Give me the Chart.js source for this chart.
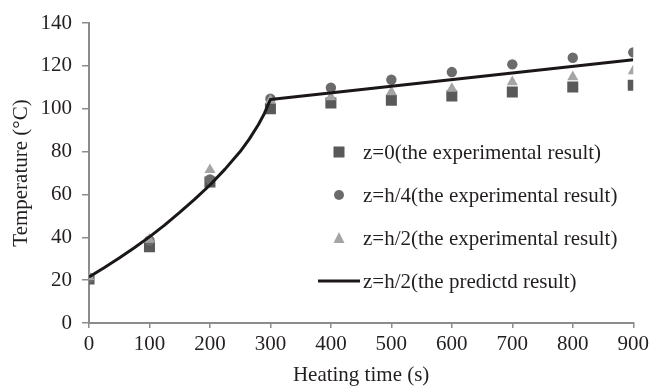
<!DOCTYPE html>
<html>
<head>
<meta charset="utf-8">
<script src="https://cdn.jsdelivr.net/npm/chart.js@4"></script>
<style>
  body { margin: 0; background: #fff; }
</style>
</head>
<body>
<canvas id="myChart" width="653" height="388"></canvas>
<script>
// experimental readings, every 100 s
const timeS = [0, 100, 200, 300, 400, 500, 600, 700, 800, 900];
const tempZ0 = [20.5, 35.6, 65.8, 100, 102.7, 103.9, 105.9, 107.8, 110.1, 110.9];
const tempZh4 = [21, 38.5, 67, 104.7, 109.8, 113.5, 117.1, 120.7, 123.8, 126.3];
const tempZh2 = [21.6, 39, 71.5, 103.9, 105.5, 107.8, 109.4, 112.5, 114.8, 117.6];

// predicted curve at z=h/2
const predTime = [0, 25, 50, 75, 100, 125, 150, 175, 200, 225, 250, 265, 280, 290, 300, 900];
const predTemp = [21.5, 25.8, 30.3, 35.1, 40.2, 45.7, 51.6, 57.8, 64.4, 71.8, 80, 85.8, 92.5, 97.8, 104.3, 122.9];

const labels = [
  "z=0(the experimental result)",
  "z=h/4(the experimental result)",
  "z=h/2(the experimental result)",
  "z=h/2(the predictd result)"
];

const FONT = '"Liberation Serif", "Times New Roman", serif';
const FSIZE = 21;
const AXIS_GREY = "#8c8c8c";
const TEXT = "#231f20";

const pts = (xs, ys) => xs.map((x, i) => ({ x: x, y: ys[i] }));

// legend sits inside the plot on the right, like the original
const insideLegend = {
  id: "insideLegend",
  afterDraw(chart) {
    const ctx = chart.ctx;
    ctx.save();
    ctx.font = FSIZE + "px " + FONT;
    ctx.textBaseline = "middle";
    const mx = 339, tx = 363;
    chart.data.datasets.forEach((ds, i) => {
      const y = 152 + i * 43;
      ctx.fillStyle = ds.backgroundColor;
      if (ds.pointStyle === "rect") {
        ctx.fillRect(mx - 5.5, y - 5.5, 11, 11);
      } else if (ds.pointStyle === "circle") {
        ctx.beginPath();
        ctx.arc(mx, y, 5, 0, Math.PI * 2);
        ctx.fill();
      } else if (ds.pointStyle === "triangle") {
        ctx.beginPath();
        ctx.moveTo(mx, y - 6);
        ctx.lineTo(mx + 5.5, y + 5);
        ctx.lineTo(mx - 5.5, y + 5);
        ctx.closePath();
        ctx.fill();
      } else {
        ctx.strokeStyle = ds.borderColor;
        ctx.lineWidth = ds.borderWidth;
        ctx.beginPath();
        ctx.moveTo(318, y);
        ctx.lineTo(360, y);
        ctx.stroke();
      }
      ctx.fillStyle = TEXT;
      ctx.fillText(ds.label, tx, y + 1);
    });
    ctx.restore();
  }
};

new Chart(document.getElementById("myChart"), {
  type: "scatter",
  data: {
    datasets: [
      {
        label: labels[0],
        data: pts(timeS, tempZ0),
        pointStyle: "rect",
        pointRadius: 7.8,
        backgroundColor: "#595959",
        borderWidth: 0,
        order: 3
      },
      {
        label: labels[1],
        data: pts(timeS, tempZh4),
        pointStyle: "circle",
        pointRadius: 5.2,
        backgroundColor: "#6b6b6d",
        borderWidth: 0,
        order: 2
      },
      {
        label: labels[2],
        data: pts(timeS, tempZh2),
        pointStyle: "triangle",
        pointRadius: 6.4,
        backgroundColor: "#a5a5a5",
        borderWidth: 0,
        order: 1
      },
      {
        type: "line",
        label: labels[3],
        data: pts(predTime, predTemp),
        borderColor: "#1b1718",
        backgroundColor: "#1b1718",
        borderWidth: 3,
        borderJoinStyle: "round",
        pointRadius: 0,
        tension: 0,
        order: 0
      }
    ]
  },
  options: {
    responsive: false,
    animation: false,
    devicePixelRatio: 1,
    layout: { padding: { top: 23, right: 17, left: 0, bottom: 0 } },
    plugins: {
      legend: { display: false },
      tooltip: { enabled: false }
    },
    scales: {
      x: {
        type: "linear",
        min: 0,
        max: 900,
        afterFit: (s) => { s.height = 65; },
        ticks: { stepSize: 100, color: TEXT, font: { family: FONT, size: FSIZE }, padding: 4, maxRotation: 0 },
        grid: { display: true, drawOnChartArea: false, drawTicks: true, tickLength: 5, color: AXIS_GREY, lineWidth: 1.5 },
        border: { color: AXIS_GREY, width: 2 },
        title: { display: true, text: "Heating time (s)", color: TEXT, font: { family: FONT, size: FSIZE }, padding: { top: 0, bottom: 0 } }
      },
      y: {
        min: 0,
        max: 140,
        afterFit: (s) => { s.width = 89; },
        ticks: { stepSize: 20, color: TEXT, font: { family: FONT, size: FSIZE }, padding: 10 },
        grid: { display: true, drawOnChartArea: false, drawTicks: true, tickLength: 7, color: AXIS_GREY, lineWidth: 1.5 },
        border: { color: AXIS_GREY, width: 2 },
        title: { display: true, text: "Temperature (\u00B0C)", color: TEXT, font: { family: FONT, size: FSIZE }, padding: { top: 9, bottom: 0 } }
      }
    }
  },
  plugins: [insideLegend]
});
</script>
</body>
</html>
